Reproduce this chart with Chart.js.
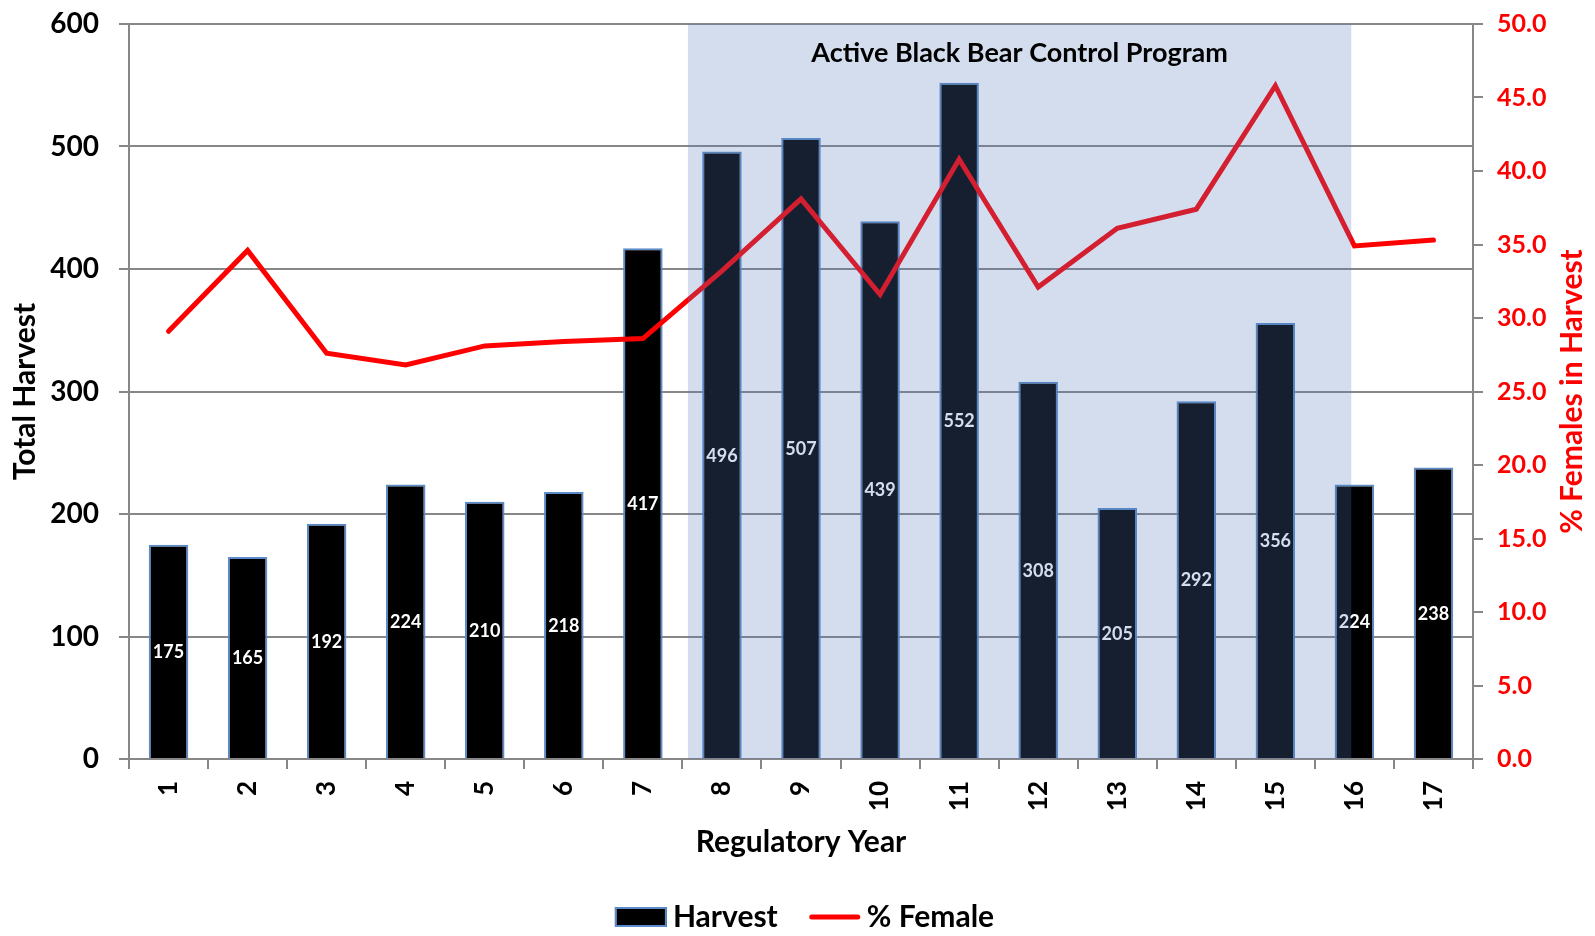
<!DOCTYPE html>
<html>
<head>
<meta charset="utf-8">
<title>Black Bear Harvest by Regulatory Year</title>
<script src="https://cdn.jsdelivr.net/npm/chart.js@4"></script>
<style>
  html, body { margin: 0; padding: 0; background: #fff; }
</style>
</head>
<body>
<canvas id="canvas" width="1595" height="936"></canvas>
<script>
"use strict";

var years = ['1', '2', '3', '4', '5', '6', '7', '8', '9', '10', '11', '12', '13', '14', '15', '16', '17'];
var harvest = [175, 165, 192, 224, 210, 218, 417, 496, 507, 439, 552, 308, 205, 292, 356, 224, 238];
var pctFemale = [29.1, 34.6, 27.6, 26.8, 28.1, 28.4, 28.6, 33.2, 38.1, 31.6, 40.8, 32.1, 36.1, 37.4, 45.8, 34.9, 35.3];

// control program span, in category index units (year 1 = 0)
var programStart = 6.57;
var programEnd = 14.96;
var programLabel = 'Active Black Bear Control Program';

var FONT = 'Lato, "Open Sans", sans-serif';
var GRID = '#878787';
var RED = '#ff0000';
var BAR_EDGE = '#5b8bc9';

Chart.defaults.font.family = FONT;
Chart.defaults.color = '#000';

// fixed axis widths so the plot box does not move with label sizes
function fixWidth(w) {
  return function(scale) {
    scale.width = w;
    scale.paddingTop = 0;
    scale.paddingBottom = 0;
  };
}

var overlay = {
  id: 'overlay',
  afterDatasetsDraw: function(chart) {
    var ctx = chart.ctx;
    var area = chart.chartArea;
    var xs = chart.scales.x;
    var bars = chart.getDatasetMeta(1);

    ctx.save();
    // value labels in the middle of each bar
    ctx.font = 'bold 18px ' + FONT;
    ctx.fillStyle = '#fff';
    ctx.textAlign = 'center';
    ctx.textBaseline = 'middle';
    bars.data.forEach(function(bar, i) {
      ctx.fillText(String(harvest[i]), bar.x, (bar.y + bar.base) / 2 + 1);
    });

    // shaded band over the control program years
    var x0 = xs.getPixelForValue(programStart);
    var x1 = xs.getPixelForValue(programEnd);
    ctx.fillStyle = 'rgba(82,122,188,0.255)';
    ctx.fillRect(x0, area.top, x1 - x0, area.bottom - area.top);

    ctx.fillStyle = '#000';
    ctx.font = 'bold 27px ' + FONT;
    ctx.fillText(programLabel, (x0 + x1) / 2, area.top + 29);
    ctx.restore();
  },
  afterDraw: function(chart) {
    var ctx = chart.ctx;
    var area = chart.chartArea;
    var right = chart.scales.y1;

    ctx.save();
    // right axis title, reading upward
    ctx.translate(right.right - 23, (area.top + area.bottom) / 2);
    ctx.rotate(-Math.PI / 2);
    ctx.font = 'bold 30px ' + FONT;
    ctx.fillStyle = RED;
    ctx.textAlign = 'center';
    ctx.textBaseline = 'middle';
    ctx.fillText('% Females in Harvest', 0, 0);
    ctx.restore();

    // legend
    ctx.save();
    ctx.font = 'bold 30px ' + FONT;
    ctx.textBaseline = 'middle';
    ctx.textAlign = 'left';
    var items = [
      { text: chart.data.datasets[1].label, kind: 'box' },
      { text: chart.data.datasets[0].label, kind: 'line' }
    ];
    var swatch = 52, gap = 6, spacing = 31;
    var total = 0;
    items.forEach(function(it, i) {
      it.w = ctx.measureText(it.text).width;
      total += swatch + gap + it.w + (i ? spacing : 0);
    });
    var x = chart.width / 2 + 7 - total / 2;
    var y = 917;
    items.forEach(function(it) {
      if (it.kind === 'box') {
        ctx.fillStyle = '#000';
        ctx.fillRect(x, y - 10, swatch, 20);
        ctx.strokeStyle = BAR_EDGE;
        ctx.lineWidth = 2;
        ctx.strokeRect(x + 1, y - 9, swatch - 2, 18);
      } else {
        ctx.strokeStyle = RED;
        ctx.lineWidth = 5;
        ctx.lineCap = 'round';
        ctx.beginPath();
        ctx.moveTo(x + 3, y);
        ctx.lineTo(x + swatch - 3, y);
        ctx.stroke();
      }
      ctx.fillStyle = '#000';
      ctx.fillText(it.text, x + swatch + gap, y);
      x += swatch + gap + it.w + spacing;
    });
    ctx.restore();
  }
};

var ctx = document.getElementById('canvas').getContext('2d');
window.harvestChart = new Chart(ctx, {
  type: 'bar',
  data: {
    labels: years,
    datasets: [{
      type: 'line',
      label: '% Female',
      data: pctFemale,
      yAxisID: 'y1',
      borderColor: RED,
      backgroundColor: RED,
      borderWidth: 5,
      borderCapStyle: 'round',
      borderJoinStyle: 'miter',
      pointRadius: 0,
      tension: 0,
      order: 0
    }, {
      label: 'Harvest',
      data: harvest,
      yAxisID: 'y',
      backgroundColor: '#000',
      borderColor: BAR_EDGE,
      borderWidth: 2,
      categoryPercentage: 0.5,
      barPercentage: 1,
      order: 1
    }]
  },
  options: {
    responsive: false,
    animation: false,
    layout: {
      autoPadding: false,
      padding: { top: 24, left: 0, right: 0, bottom: 80 }
    },
    plugins: {
      legend: { display: false },
      tooltip: { enabled: false },
      title: { display: false }
    },
    scales: {
      x: {
        offset: true,
        afterFit: function(scale) { scale.height = 97; },
        grid: {
          offset: true,
          drawOnChartArea: false,
          drawTicks: true,
          tickLength: 10,
          color: GRID,
          lineWidth: 2
        },
        border: { display: true, color: GRID, width: 2 },
        ticks: {
          minRotation: 90,
          maxRotation: 90,
          padding: 12,
          color: '#000',
          font: { size: 26, weight: 'bold' }
        },
        title: {
          display: true,
          text: 'Regulatory Year',
          color: '#000',
          padding: { top: 0, bottom: -4 },
          font: { size: 30, weight: 'bold' }
        }
      },
      y: {
        position: 'left',
        min: 0,
        max: 600,
        afterFit: fixWidth(129),
        grid: { color: GRID, lineWidth: 2, tickLength: 10 },
        border: { display: true, color: GRID, width: 2 },
        ticks: {
          stepSize: 100,
          padding: 20,
          color: '#000',
          font: { size: 28, weight: 'bold' }
        },
        title: {
          display: true,
          text: 'Total Harvest',
          color: '#000',
          padding: { top: 7, bottom: 0 },
          font: { size: 30, weight: 'bold' }
        }
      },
      y1: {
        position: 'right',
        min: 0,
        max: 50,
        afterFit: fixWidth(122),
        grid: { drawOnChartArea: false, color: GRID, lineWidth: 2, tickLength: 10 },
        border: { display: true, color: GRID, width: 2 },
        ticks: {
          stepSize: 5,
          padding: 14,
          color: RED,
          font: { size: 25, weight: 'bold' },
          callback: function(v) { return Number(v).toFixed(1); }
        }
      }
    }
  },
  plugins: [overlay]
});
</script>
</body>
</html>
